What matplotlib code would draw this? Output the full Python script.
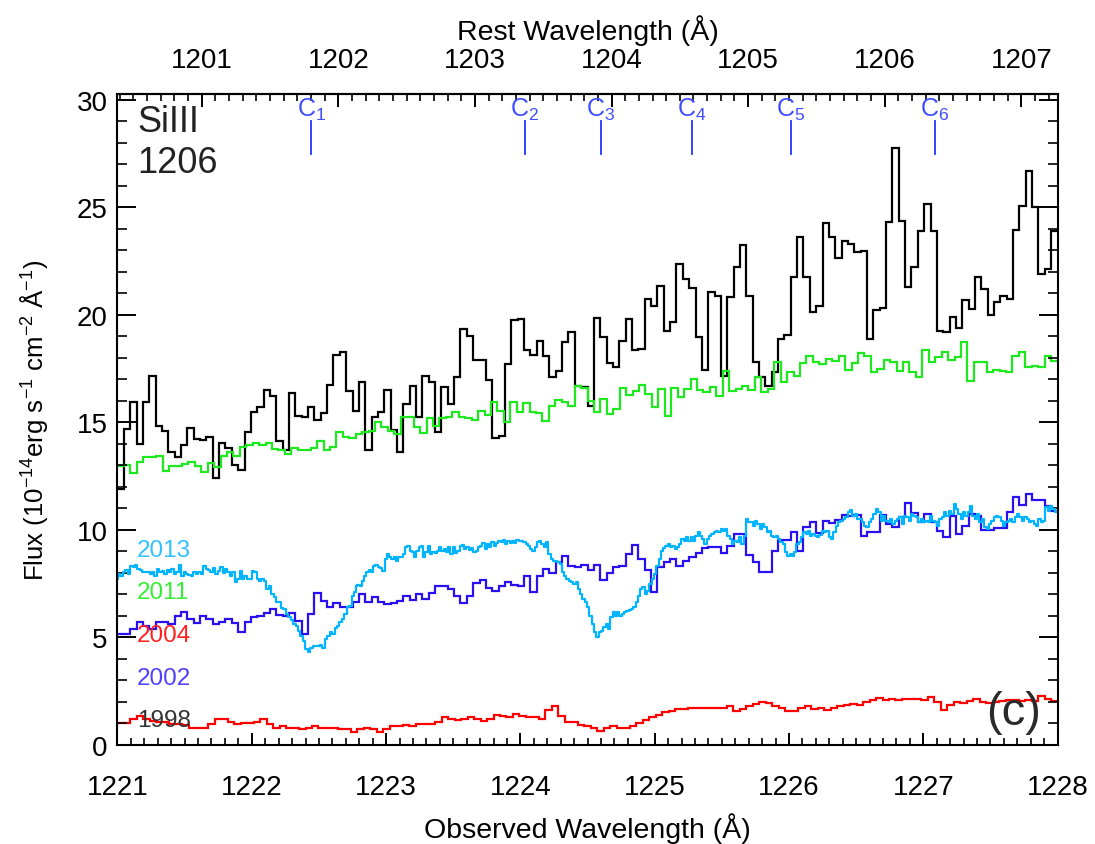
#importing required libraries
import numpy as np
import matplotlib
matplotlib.use("Agg")
import matplotlib.pyplot as plt
from matplotlib.ticker import MultipleLocator, FixedLocator

plt.rcParams['font.family'] = ['Liberation Sans', 'DejaVu Sans']
plt.rcParams['mathtext.fontset'] = 'custom'
plt.rcParams['mathtext.rm'] = 'Liberation Sans'
plt.rcParams['mathtext.it'] = 'Liberation Sans:italic'

# redshift used for the rest-frame axis on top
z = 0.017175
w_min, w_max = 1221.0, 1228.0
rest_ticks = [1201, 1202, 1203, 1204, 1205, 1206, 1207]

# 1998 spectrum (binned, black)
flux_1998 = [11.9,
    14.69, 15.96, 13.99, 15.96, 17.14, 14.81, 14.61, 13.63, 13.4, 13.94,
    14.72, 14.22, 14.18, 14.33, 12.4, 14.04, 13.79, 13.03, 12.8, 14.53,
    15.49, 15.7, 16.5, 16.24, 14.14, 13.73, 16.36, 15.28, 15.23, 15.7,
    15.11, 15.43, 16.75, 18.14, 18.26, 16.47, 15.54, 16.89, 13.71, 15.23,
    15.49, 16.5, 14.66, 13.63, 15.85, 16.7, 15.23, 17.17,
    16.89, 14.56, 16.63, 15.85, 17.09, 19.34, 19.0, 17.91, 17.91, 16.98,
    14.26, 14.38, 17.71, 19.77, 19.8, 18.38, 18.14, 18.8, 18.07, 17.09,
    17.4, 18.72, 19.19, 16.67, 16.63, 15.77, 19.84, 18.95, 17.76, 17.59,
    18.8, 19.8, 18.38, 18.41, 20.73, 20.42, 21.35, 19.26, 19.65, 22.36,
    21.67, 21.25, 18.95, 17.45, 21.07, 20.89, 17.14, 20.81, 22.21,
    23.26, 20.89, 17.82, 17.09, 16.7, 17.35, 18.9, 19.06, 21.74, 23.6,
    21.77, 20.14, 20.42, 24.25, 23.6, 22.63, 23.45, 23.29, 22.9, 22.98,
    18.87, 20.22, 20.32, 24.33, 27.74, 24.38, 21.31, 22.21, 23.91, 25.15,
    23.91, 19.26, 19.21, 19.91, 19.37, 20.7, 20.27, 21.77, 21.2, 20.0,
    20.61, 20.89, 20.73, 23.96, 25.07, 26.7, 25.0, 21.9, 22.13, 23.91]

# 2011 spectrum (green)
flux_2011 = [
    12.98, 13.01, 12.64, 13.14, 13.4, 13.4, 13.45, 12.75, 12.98, 12.98,
    13.06, 13.17, 12.98, 12.67, 13.09, 12.93, 13.45, 13.6, 13.45, 13.87,
    13.94, 14.02, 13.94, 14.02, 13.76, 13.71, 13.53, 13.79, 13.71, 13.71,
    13.79, 14.12, 13.73, 13.87, 14.53, 14.33, 14.26, 14.46, 14.53, 14.61,
    15.0, 14.77, 14.58, 14.46, 15.23, 15.23, 14.77, 14.49, 15.19,
    14.81, 15.19, 15.23, 15.47, 15.23, 15.19, 15.12, 15.54, 15.34, 15.96,
    15.54, 15.03, 15.96, 15.47, 15.9, 15.49, 15.43, 15.07, 15.77, 16.05,
    15.93, 15.74, 16.7, 16.58, 16.0, 15.47, 16.08, 15.39, 15.62, 16.58,
    16.27, 16.47, 16.73, 16.32, 15.7, 16.55, 15.31, 16.58, 16.16, 16.55,
    17.01, 16.52, 16.42, 16.63, 16.24, 17.4, 16.47, 16.55,
    16.7, 16.5, 17.09, 16.42, 16.55, 17.79, 16.89, 17.35, 17.14, 17.76,
    18.1, 17.82, 17.71, 17.94, 17.87, 18.1, 17.45, 17.76, 18.22, 18.1,
    17.33, 17.48, 17.91, 17.79, 17.4, 17.79, 17.33, 17.09, 18.38, 17.82,
    18.02, 18.26, 17.91, 18.02, 18.75, 16.93, 17.79, 17.79, 17.33, 17.43,
    17.4, 17.33, 18.1, 18.28, 17.56, 17.63, 17.56, 18.1, 17.87]

# 2002 spectrum (blue)
flux_2002 = [
    5.15, 5.15, 5.39, 5.7, 5.54, 5.39, 5.7, 5.73, 5.62, 6.0,
    6.19, 5.85, 5.67, 6.0, 5.85, 5.62, 5.73, 5.88, 5.67, 5.23,
    5.7, 5.97, 6.0, 6.12, 6.32, 6.04, 6.0, 6.13, 5.77, 5.15,
    6.08, 7.05, 6.7, 6.4, 6.6, 6.4, 6.4, 6.66, 7.01, 6.63,
    6.86, 6.63, 6.55, 6.6, 6.7, 6.91, 6.75, 7.01,
    6.78, 7.06, 7.37, 7.37, 7.25, 6.93, 6.58, 6.91, 7.53, 7.67,
    7.28, 7.17, 7.37, 7.56, 7.43, 7.37, 7.87, 7.09, 7.87, 8.18,
    7.99, 8.52, 8.8, 8.3, 8.26, 8.36, 8.14, 8.36, 7.68, 7.99,
    8.26, 8.3, 8.87, 9.29, 8.67, 8.14, 7.12, 8.26, 8.49, 8.67,
    8.33, 8.56, 8.72, 8.92, 9.14, 9.19, 9.19, 8.92, 9.26, 9.8,
    9.83, 8.83, 8.52, 8.02, 8.02, 9.03, 9.54, 9.54, 9.91, 9.03,
    10.12, 10.35, 9.85, 10.42, 10.32, 10.47, 10.7, 10.63, 10.69, 9.7,
    9.88, 9.88, 10.69, 10.27, 10.14, 10.58, 11.25, 10.77, 10.38, 10.74,
    10.35, 9.96, 9.68, 10.63, 9.8, 10.19, 10.74, 10.63, 10.0, 10.0,
    10.07, 10.07, 10.81, 11.51, 11.17, 11.67, 11.4, 11.4, 11.12, 10.89]

# 2004 spectrum (red)
flux_2004 = [
    1.01, 1.01, 1.23, 1.35, 1.2, 1.12, 1.05, 1.05, 0.97, 0.97,
    0.92, 0.81, 0.81, 0.81, 0.97, 1.2, 1.2, 1.05, 0.97, 1.0,
    1.0, 1.08, 1.2, 0.97, 0.81, 0.86, 0.81, 0.81, 0.73, 0.81,
    0.86, 0.81, 0.77, 0.77, 0.73, 0.73, 0.61, 0.73, 0.81, 0.73,
    0.61, 0.73, 0.89, 0.86, 0.92, 0.89, 0.97, 0.97,
    0.97, 1.05, 1.32, 1.23, 1.17, 1.23, 1.28, 1.23, 1.12, 1.2,
    1.39, 1.35, 1.28, 1.43, 1.35, 1.32, 1.28, 1.23, 1.63, 1.79,
    1.35, 1.08, 1.05, 0.92, 0.86, 0.77, 0.66, 0.81, 0.86, 0.81,
    0.81, 0.89, 1.01, 1.17, 1.32, 1.39, 1.54, 1.59, 1.67, 1.67,
    1.7, 1.7, 1.7, 1.74, 1.74, 1.74, 1.82, 1.59, 1.67,
    1.79, 1.9, 2.0, 1.94, 1.82, 1.7, 1.59, 1.56, 1.74, 1.79,
    1.67, 1.74, 1.63, 1.7, 1.79, 1.85, 1.9, 1.85, 2.0, 2.1,
    2.19, 2.1, 2.13, 2.1, 2.13, 2.13, 2.13, 2.1, 2.21, 2.0,
    1.63, 1.85, 2.0, 1.94, 2.05, 2.16, 2.0, 1.94, 2.0, 2.05,
    2.1, 2.1, 2.05, 2.1, 2.05, 2.28, 2.16, 2.05]

# 2013 spectrum (COS, finer sampling), read in four pieces
cyan_ranges = [(1220.994, 1222.770), (1222.777, 1224.521),
               (1224.541, 1226.235), (1226.252, 1228.006)]
cyan_parts = [
    [7.74, 7.94, 7.84, 8.02, 8.14, 7.94, 8.33, 8.26, 8.36, 8.18,
     8.14, 8.05, 8.02, 8.05, 7.94, 8.02, 7.84, 8.18, 8.02, 8.1,
     7.94, 8.14, 8.02, 8.18, 7.94, 8.02, 8.36, 7.87, 8.02, 7.94,
     7.9, 7.87, 8.02, 7.94, 8.05, 7.97, 8.33, 8.18, 8.14, 8.02,
     8.21, 7.94, 8.1, 8.26, 7.99, 8.18, 8.05, 7.87, 8.02, 7.56,
     7.74, 8.1, 7.71, 7.87, 7.74, 7.74, 8.1, 8.02, 7.71, 7.63,
     7.74, 7.63, 7.25, 7.4, 7.01, 6.86, 6.66, 6.63, 6.35, 6.32,
     6.08, 5.93, 5.82, 5.62, 5.54, 5.31, 5.07, 4.84, 4.46, 4.3,
     4.53, 4.61, 4.58, 4.61, 4.64, 4.53, 4.92, 5.07, 5.23, 5.15,
     5.42, 5.54, 5.7, 5.85, 6.08, 6.4, 6.47, 6.93, 7.09],
    [7.4, 7.45, 7.4, 7.63, 7.87, 8.02, 8.13, 8.02, 8.33, 8.38,
     8.26, 8.22, 8.1, 8.64, 8.87, 8.72, 8.64, 8.72, 8.56, 8.75,
     8.72, 8.87, 9.19, 9.26, 9.03, 8.95, 8.72, 9.03, 9.19, 9.26,
     8.72, 8.95, 9.26, 8.87, 8.95, 8.91, 9.0, 9.19, 9.03, 9.11,
     8.95, 9.21, 8.87, 9.19, 8.91, 9.03, 9.26, 9.31, 9.11, 9.21,
     9.06, 9.15, 8.95, 9.03, 9.19, 9.26, 9.37, 9.11, 9.34, 9.19,
     9.42, 9.26, 9.37, 9.49, 9.42, 9.53, 9.34, 9.49, 9.37, 9.49,
     9.37, 9.53, 9.49, 9.49, 9.42, 9.34, 9.26, 9.11, 9.03, 9.19,
     9.42, 9.49, 9.34, 9.19, 9.42, 8.87, 8.64, 8.56, 8.56, 8.49,
     8.41, 8.02, 7.87, 7.71, 7.63, 7.56, 7.48, 7.56, 7.25, 7.01,
     6.78, 6.63, 6.4, 6.0],
    [5.62, 5.23, 5.0, 5.23, 5.31, 5.47, 5.62, 5.39, 5.93, 6.16,
     6.0, 6.16, 6.0, 6.08, 6.16, 6.24, 6.27, 6.32, 6.4, 6.63,
     6.93, 7.25, 7.33, 7.01, 7.17, 7.48, 7.71, 7.94, 8.33, 8.64,
     9.03, 9.15, 9.26, 9.34, 9.19, 9.26, 9.11, 9.19, 9.34, 9.57,
     9.49, 9.65, 9.47, 9.65, 9.49, 9.73, 9.88, 9.73, 9.57, 9.34,
     9.57, 9.73, 9.8, 9.88, 9.96, 9.88, 10.04, 9.96, 10.04, 9.73,
     9.57, 9.34, 9.49, 9.42, 9.65, 9.34, 9.73, 10.5, 10.35, 10.35,
     10.19, 10.42, 10.27, 10.04, 10.27, 10.12, 9.88, 9.96, 9.73, 9.65,
     9.73, 9.57, 9.42, 9.34, 8.95, 8.8, 8.87, 8.8, 8.95, 9.34,
     9.42, 9.65, 9.88, 9.8, 9.96, 9.73, 9.8, 9.73, 9.65, 9.77],
    [9.96, 9.88, 9.96, 9.65, 9.57, 9.88, 10.19, 10.35, 10.42, 10.5,
     10.58, 10.81, 10.94, 10.66, 10.73, 10.53, 10.5, 10.35, 10.19, 10.12,
     10.35, 10.5, 10.73, 10.97, 10.81, 10.42, 10.66, 10.42, 10.35, 10.5,
     10.27, 10.42, 10.5, 10.58, 10.27, 10.66, 10.58, 10.42, 10.73, 10.66,
     10.58, 10.35, 10.5, 10.35, 10.42, 10.35, 10.66, 10.42, 10.35, 10.19,
     10.5, 10.58, 10.81, 10.66, 10.89, 10.73, 11.2, 10.97, 10.73, 10.5,
     10.81, 10.66, 10.81, 11.12, 10.66, 10.5, 10.73, 10.35, 10.5, 10.12,
     10.04, 10.27, 10.42, 10.58, 10.66, 10.58, 10.42, 10.19, 10.35, 10.42,
     10.5, 10.35, 10.58, 10.73, 10.58, 10.42, 10.58, 10.5, 10.35, 10.42,
     10.27, 10.19, 10.5, 10.35, 10.42, 11.05, 10.89, 11.12, 10.97, 10.81,
     10.89]]

# component positions (observed wavelength)
comp_names = ['1', '2', '3', '4', '5', '6']
comp_waves = [1222.442, 1224.031, 1224.600, 1225.279, 1226.016, 1227.084]

years = ['2013', '2011', '2004', '2002', '1998']
year_colors = ['#33c0ff', '#33ee33', '#ff2020', '#5040ff', '#333333']
year_label_y = [9.05, 7.1, 5.1, 3.1, 1.15]

fig = plt.figure(figsize=(10.95, 8.45), dpi=100)
ax = fig.add_axes([0.1073, 0.1172, 0.8585, 0.7704])

def edges(vals):
    return np.linspace(w_min, w_max, len(vals) + 1)

ax.stairs(flux_1998, edges(flux_1998), color='black', lw=1.6, baseline=None)
ax.stairs(flux_2011, edges(flux_2011), color='#1ee81e', lw=1.6, baseline=None)
ax.stairs(flux_2002, edges(flux_2002), color='#2a10ee', lw=1.6, baseline=None)
cyan_w = np.concatenate([np.linspace(a, b, len(p)) for (a, b), p in zip(cyan_ranges, cyan_parts)])
cyan_f = np.concatenate(cyan_parts)
ax.plot(cyan_w, cyan_f, color='#00b4ff', lw=1.6, drawstyle='steps-mid')
ax.stairs(flux_2004, edges(flux_2004), color='#ff0000', lw=1.6, baseline=None)

# component markers
for name, w in zip(comp_names, comp_waves):
    ax.plot([w, w], [27.5, 29.0], color='#2233ff', lw=1.3)
    ax.text(w, 29.25, 'C$_{%s}$' % name, color='#3f4fff', fontsize=18,
            ha='center', va='baseline')

# year labels
for yr, c, yy in zip(years, year_colors, year_label_y):
    ax.text(1221.145, yy, yr, color=c, fontsize=17.5, va='center', ha='left')

ax.text(1221.145, 29.0, 'SiIII', fontsize=26, color='#222222', va='center')
ax.text(1221.145, 27.1, '1206', fontsize=26, color='#222222', va='center')
ax.text(1227.67, 1.55, '(c)', fontsize=34, color='#2a2a2a', ha='center', va='center')

ax.set_xlim(w_min, w_max)
ax.set_ylim(0, 30.27)

ax.xaxis.set_major_locator(MultipleLocator(1))
ax.xaxis.set_minor_locator(MultipleLocator(0.1))
ax.yaxis.set_major_locator(MultipleLocator(5))
ax.yaxis.set_minor_locator(MultipleLocator(1))
ax.tick_params(axis='x', which='major', direction='in', length=9, width=1.4,
               labelsize=20, pad=21, top=False)
ax.tick_params(axis='x', which='minor', direction='in', length=5, width=1.2, top=False)
ax.tick_params(axis='y', which='major', direction='in', length=14, width=1.4,
               labelsize=20, pad=7, right=True)
ax.tick_params(axis='y', which='minor', direction='in', length=7, width=1.2, right=True)
for s in ax.spines.values():
    s.set_linewidth(1.5)

# rest-frame axis on top
sec = ax.secondary_xaxis('top', functions=(lambda w: w / (1 + z), lambda w: w * (1 + z)))
sec.xaxis.set_major_locator(FixedLocator(rest_ticks))
sec.xaxis.set_minor_locator(MultipleLocator(0.1))
sec.tick_params(which='major', direction='in', length=9, width=1.4, labelsize=20, pad=15)
sec.tick_params(which='minor', direction='in', length=5, width=1.2)
sec.spines['top'].set_linewidth(1.5)
sec.set_xlabel('Rest Wavelength (Å)', fontsize=20.5, labelpad=6)

ax.set_xlabel('Observed Wavelength (Å)', fontsize=20.5)
ax.xaxis.set_label_coords(0.5, -0.104)
ax.set_ylabel('Flux (10$^{-14}$erg s$^{-1}$ cm$^{-2}$ Å$^{-1}$)', fontsize=18.5)
ax.yaxis.set_label_coords(-0.072, 0.5)

fig.savefig('out.png', dpi=100)
